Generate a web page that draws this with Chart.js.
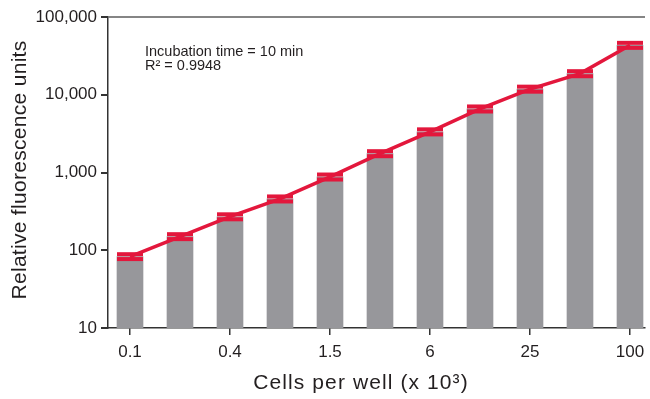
<!DOCTYPE html>
<html>
<head>
<meta charset="utf-8">
<script src="https://cdn.jsdelivr.net/npm/chart.js@4"></script>
<style>
  html, body { margin: 0; padding: 0; background: #fff; overflow: hidden; width: 650px; height: 399px; }
  canvas { display: block; }
</style>
</head>
<body>
<canvas id="chart" width="662" height="399"></canvas>
<script>
// data
const cells = ['0.1', '0.2', '0.4', '0.8', '1.5', '3', '6', '12', '25', '50', '100'];
const rfu = [83, 150, 270, 458, 877, 1750, 3340, 6580, 11830, 18700, 43300];
const rfuSd = [6, 11, 20, 34, 65, 130, 250, 490, 880, 1400, 3200];
const yTicks = [10, 100, 1000, 10000, 100000];
const xTitle = 'Cells per well (x 10\u00B3)';
const yTitle = 'Relative fluorescence units';
const note = ['Incubation time = 10 min', 'R\u00B2 = 0.9948'];

const red = '#e3173c';
const gray = '#97979b';
const textCol = '#231f20';
const fam = '"Liberation Sans", Arial, Helvetica, sans-serif';

const pts = arr => arr.map((v, i) => ({ x: i, y: v }));

const textPlugin = {
    id: 'textPlugin',
    afterDraw(chart) {
        const c = chart.ctx;
        c.save();
        c.fillStyle = textCol;
        c.font = '21px ' + fam;
        c.textAlign = 'center';
        c.textBaseline = 'middle';
        c.letterSpacing = '1.1px';
        c.fillText(xTitle, 361, 383);
        c.letterSpacing = '0.3px';
        c.translate(20, 170);
        c.rotate(-Math.PI / 2);
        c.fillText(yTitle, 0, 0);
        c.restore();

        c.save();
        c.fillStyle = textCol;
        c.font = '14.5px ' + fam;
        c.textAlign = 'left';
        c.textBaseline = 'middle';
        c.fillText(note[0], 145, 52);
        c.fillText(note[1], 145, 66);
        c.restore();
    }
};

new Chart(document.getElementById('chart'), {
    type: 'bar',
    data: {
        datasets: [
            {
                type: 'line',
                data: pts(rfu),
                borderColor: red,
                borderWidth: 3.5,
                pointRadius: 0,
                order: 1
            },
            {
                type: 'line',
                data: pts(rfu.map((v, i) => v + rfuSd[i])),
                showLine: false,
                pointStyle: 'line',
                pointRadius: 13,
                pointBorderWidth: 4,
                pointBorderColor: red,
                order: 2
            },
            {
                type: 'line',
                data: pts(rfu.map((v, i) => v - rfuSd[i])),
                showLine: false,
                pointStyle: 'line',
                pointRadius: 13,
                pointBorderWidth: 4,
                pointBorderColor: red,
                order: 2
            },
            {
                data: pts(rfu),
                backgroundColor: gray,
                barThickness: 26,
                order: 3
            }
        ]
    },
    options: {
        responsive: false,
        animation: false,
        layout: { padding: { top: 15, right: 5, left: 0, bottom: 0 } },
        plugins: {
            legend: { display: false },
            tooltip: { enabled: false }
        },
        scales: {
            x: {
                type: 'linear',
                offset: false,
                min: -0.44,
                max: 10.3,
                afterBuildTicks: s => {
                    s.ticks = cells.map((c, i) => i).filter(i => i % 2 === 0).map(v => ({ value: v }));
                },
                afterFit: s => {
                    s.height = 71;
                    s.paddingLeft = 0;
                    s.paddingRight = 0;
                },
                ticks: {
                    callback: v => cells[v],
                    autoSkip: false,
                    maxRotation: 0,
                    padding: 7,
                    color: textCol,
                    font: { size: 17, family: fam }
                },
                grid: {
                    offset: false,
                    drawOnChartArea: false,
                    tickColor: '#333',
                    tickLength: 7,
                    lineWidth: 1.5
                },
                border: { color: '#333', width: 1.5 }
            },
            y: {
                type: 'logarithmic',
                min: 10,
                max: 100000,
                afterBuildTicks: s => {
                    s.ticks = yTicks.map(v => ({ value: v }));
                },
                afterFit: s => { s.width = 108; },
                ticks: {
                    callback: v => v.toLocaleString('en-US'),
                    autoSkip: false,
                    padding: 4,
                    color: textCol,
                    font: { size: 17, family: fam }
                },
                grid: {
                    color: ctx => (ctx.tick && ctx.tick.value === 100000) ? '#858585' : 'transparent',
                    lineWidth: 2,
                    tickColor: '#333',
                    tickLength: 7
                },
                border: { color: '#333', width: 1.5 }
            }
        }
    },
    plugins: [textPlugin]
});
</script>
</body>
</html>
